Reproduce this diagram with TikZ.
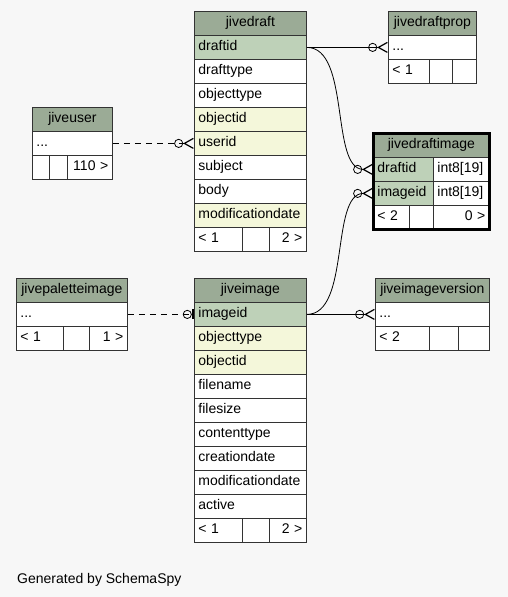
\documentclass[tikz,border=0pt]{standalone}
\usepackage{fontspec}
\setmainfont{Liberation Sans}
\definecolor{hdgreen}{RGB}{155, 171, 150}
\definecolor{pkgreen}{RGB}{190, 209, 184}
\definecolor{ixyellow}{RGB}{244, 247, 218}
\definecolor{pagebg}{RGB}{247, 247, 247}
\usetikzlibrary{arrows.meta}

\begin{document}
\begin{tikzpicture}[
  x=1pt, y=-1pt,
  cell/.style={draw=black!80, line width=0.8pt, fill=white, anchor=north west, inner xsep=4pt, inner ysep=0pt, minimum height=24pt, text height=10pt, text depth=3pt, text width=#1, align=left, font=\fontsize{14}{16}\selectfont},
  hd/.style={cell=#1, fill=hdgreen, align=center},
  pk/.style={cell=#1, fill=pkgreen},
  ix/.style={cell=#1, fill=ixyellow},
  rt/.style={cell=#1, align=right},
  many/.style={line width=0.8pt, -{Circle[open, length=9pt, width=9pt, sep=0pt] Straight Barb[reversed, length=9pt, width=10pt, line width=1.2pt]}},
  one/.style={line width=0.8pt, -{Circle[open, length=9pt, width=9pt, sep=0pt] Bar[width=10pt, line width=2.2pt]}},
  fk/.style={dash pattern=on 6pt off 5pt}
]
  \path[use as bounding box, fill=pagebg] (0,0) rectangle (508,597);

  \node[hd=104] (jd) at (194,11) {jivedraft};
  \node[pk=104] (jd-draftid) at (194,35) {draftid};
  \node[cell=104] (jd-drafttype) at (194,59) {drafttype};
  \node[cell=104] (jd-objecttype) at (194,83) {objecttype};
  \node[ix=104] (jd-objectid) at (194,107) {objectid};
  \node[ix=104] (jd-userid) at (194,131) {userid};
  \node[cell=104] (jd-subject) at (194,155) {subject};
  \node[cell=104] (jd-body) at (194,179) {body};
  \node[ix=104] (jd-moddate) at (194,203) {modificationdate};
  \node[cell=40] (jd-f1) at (194,227) {< 1};
  \node[cell=19] (jd-f2) at (242,227) {};
  \node[rt=29] (jd-f3) at (269,227) {2 >};

  \node[hd=80] (jdp) at (388,11) {jivedraftprop};
  \node[cell=80] (jdp-rest) at (388,35) {...};
  \node[cell=33] (jdp-f1) at (388,59) {< 1};
  \node[cell=15] (jdp-f2) at (429,59) {};
  \node[cell=16] (jdp-f3) at (452,59) {};

  \node[hd=72] (ju) at (32,107) {jiveuser};
  \node[cell=72] (ju-rest) at (32,131) {...};
  \node[cell=9] (ju-f1) at (32,155) {};
  \node[cell=10] (ju-f2) at (49,155) {};
  \node[rt=37] (ju-f3) at (67,155) {110 >};

  \node[hd=108] (jdi) at (373,133) {jivedraftimage};
  \node[pk=52] (jdi-draftid) at (373,157) {draftid};
  \node[cell=48] (jdi-draftid-t) at (433,157) {int8[19]};
  \node[pk=52] (jdi-imageid) at (373,181) {imageid};
  \node[cell=48] (jdi-imageid-t) at (433,181) {int8[19]};
  \node[cell=28] (jdi-f1) at (373,205) {< 2};
  \node[cell=16] (jdi-f2) at (409,205) {};
  \node[rt=48] (jdi-f3) at (433,205) {0 >};
  \draw[line width=3pt] (jdi.north west) rectangle (jdi-f3.south east);

  \node[hd=103] (jpi) at (16,278) {jivepaletteimage};
  \node[cell=103] (jpi-rest) at (16,302) {...};
  \node[cell=39] (jpi-f1) at (16,326) {< 1};
  \node[cell=18] (jpi-f2) at (63,326) {};
  \node[rt=30] (jpi-f3) at (89,326) {1 >};

  \node[hd=104] (ji) at (194,278) {jiveimage};
  \node[pk=104] (ji-imageid) at (194,302) {imageid};
  \node[ix=104] (ji-objecttype) at (194,326) {objecttype};
  \node[ix=104] (ji-objectid) at (194,350) {objectid};
  \node[cell=104] (ji-filename) at (194,374) {filename};
  \node[cell=104] (ji-filesize) at (194,398) {filesize};
  \node[cell=104] (ji-contenttype) at (194,422) {contenttype};
  \node[cell=104] (ji-creationdate) at (194,446) {creationdate};
  \node[cell=104] (ji-moddate) at (194,470) {modificationdate};
  \node[cell=104] (ji-active) at (194,494) {active};
  \node[cell=40] (ji-f1) at (194,518) {< 1};
  \node[cell=19] (ji-f2) at (242,518) {};
  \node[rt=29] (ji-f3) at (269,518) {2 >};

  \node[hd=106] (jiv) at (375,278) {jiveimageversion};
  \node[cell=106] (jiv-rest) at (375,302) {...};
  \node[cell=46] (jiv-f1) at (375,326) {< 2};
  \node[cell=21] (jiv-f2) at (429,326) {};
  \node[cell=23] (jiv-f3) at (458,326) {};

  \draw[many] (jd-draftid.east) -- (jdp-rest.west);
  \draw[many] (jd-draftid.east) .. controls +(44,0) and +(-43,0) .. (jdi-draftid.west);
  \draw[many] (ji-imageid.east) .. controls +(44,0) and +(-43,0) .. (jdi-imageid.west);
  \draw[many] (ji-imageid.east) -- (jiv-rest.west);
  \draw[many, fk] (ju-rest.east) -- (jd-userid.west);
  \draw[one, fk] (jpi-rest.east) -- (ji-imageid.west);

  \node[anchor=base west, inner sep=0pt, font=\fontsize{14}{16}\selectfont] (credit) at (17,583) {Generated by SchemaSpy};
\end{tikzpicture}
\end{document}
